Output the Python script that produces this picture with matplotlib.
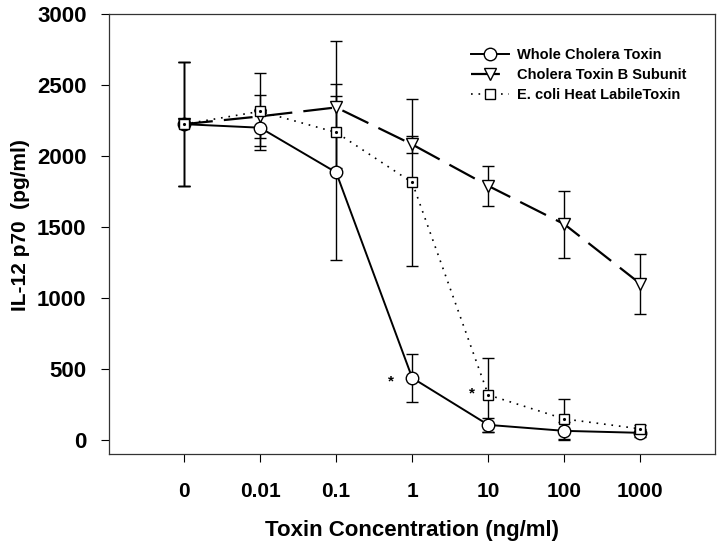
import numpy as np
import matplotlib
matplotlib.use("Agg")
import matplotlib.pyplot as plt

plt.rcParams['font.family'] = ['Liberation Sans', 'DejaVu Sans']
plt.rcParams['font.weight'] = 'bold'

# toxin concentrations (ng/ml), plotted as evenly spaced categories
conc_labels = ['0', '0.01', '0.1', '1', '10', '100', '1000']

# IL-12 p70 (pg/ml), mean and error
whole_ct = [2225, 2200, 1885, 437, 106, 64, 50]
whole_ct_err = [435, 130, 620, 170, 50, 64, 30]

ctb = [2225, 2280, 2343, 2082, 1790, 1520, 1100]
ctb_err = [435, 150, 466, 60, 140, 237, 210]

heat_lt = [2225, 2315, 2167, 1814, 317, 148, 78]
heat_lt_err = [435, 270, 254, 586, 262, 141, 25]

# significance stars (x position in category units, y value)
star_x = [2.72, 3.79]
star_y = [409, 324]

xpos = np.arange(len(conc_labels))

fig = plt.figure(figsize=(7.2, 5.45), dpi=100)
ax = fig.add_axes([0.151, 0.167, 0.842, 0.807])

# error bars first, markers on top
for vals, errs in [(whole_ct, whole_ct_err), (ctb, ctb_err), (heat_lt, heat_lt_err)]:
    ax.errorbar(xpos, vals, yerr=errs, fmt='none', ecolor='black',
                elinewidth=1.0, capsize=4, capthick=1.0, zorder=2)

ax.plot(xpos, whole_ct, color='black', lw=1.4, ls='-', marker='o', ms=9,
        mfc='white', mec='black', mew=1.0, zorder=3, label='Whole Cholera Toxin')
ax.plot(xpos, ctb, color='black', lw=1.6, dashes=(13, 5), marker='v', ms=9,
        mfc='white', mec='black', mew=1.0, zorder=3, label='Cholera Toxin B Subunit')
ax.plot(xpos, heat_lt, color='black', lw=1.2, ls=(0, (1, 3.5)), marker='s', ms=7.5,
        mfc='white', mec='black', mew=1.0, zorder=4, label='E. coli Heat LabileToxin')
ax.plot(xpos, heat_lt, ls='none', marker='.', ms=2.5, color='black', zorder=5)

for sx, sy in zip(star_x, star_y):
    ax.text(sx, sy, '*', ha='center', va='center', fontsize=11, fontweight='bold')

ax.set_xlim(-0.99, 6.98)
ax.set_ylim(-99, 3000)
ax.set_xticks(xpos)
ax.set_xticklabels(conc_labels)
ax.set_yticks(np.arange(0, 3001, 500))
ax.tick_params(axis='both', direction='out', length=6, width=0.8, labelsize=15)
ax.tick_params(axis='x', pad=14)
ax.tick_params(axis='y', pad=10, labelsize=16)
for lab in ax.get_xticklabels() + ax.get_yticklabels():
    lab.set_fontweight('bold')

for sp in ax.spines.values():
    sp.set_linewidth(0.9)
    sp.set_color('#333333')

ax.set_xlabel('Toxin Concentration (ng/ml)', fontsize=16, fontweight='bold', labelpad=14)
ax.set_ylabel('IL-12 p70  (pg/ml)', fontsize=15, fontweight='bold')
ax.yaxis.set_label_coords(-0.13, 0.52)

leg = ax.legend(loc='upper right', bbox_to_anchor=(0.975, 0.953), frameon=False,
                fontsize=10.5, handlelength=2.6, handletextpad=0.6, labelspacing=0.4)
for t in leg.get_texts():
    t.set_fontweight('bold')

fig.savefig('out.png', dpi=100)
